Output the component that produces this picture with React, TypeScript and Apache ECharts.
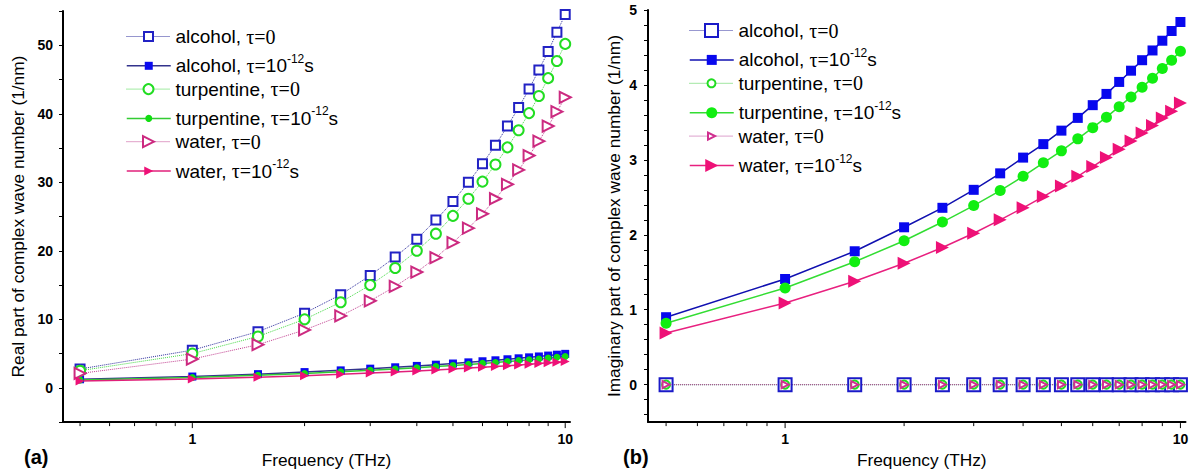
import React, { useEffect, useRef } from 'react';
import * as echarts from 'echarts';

// ---------------- data ----------------
const frequency = [0.5, 1, 1.5, 2, 2.5, 3, 3.5, 4, 4.5, 5, 5.5, 6, 6.5, 7, 7.5, 8, 8.5, 9, 9.5, 10];

// (a) real part of complex wave number (1/nm)
const realAlcoholTau0 = [2.75, 5.5, 8.2, 10.9, 13.6, 16.4, 19.1, 21.7, 24.5, 27.2, 30.0, 32.7, 35.4, 38.2, 40.9, 43.6, 46.4, 49.1, 51.9, 54.5];
const realAlcoholTau1 = [1.25, 1.65, 2.0, 2.3, 2.55, 2.8, 3.0, 3.2, 3.38, 3.55, 3.72, 3.88, 4.02, 4.17, 4.31, 4.45, 4.58, 4.71, 4.84, 4.96];
const realTurpTau0 = [2.5, 5.0, 7.5, 10.0, 12.5, 15.0, 17.5, 20.0, 22.5, 25.1, 27.6, 30.1, 32.6, 35.1, 37.6, 40.1, 42.6, 45.2, 47.7, 50.2];
const realTurpTau1 = [1.15, 1.52, 1.85, 2.1, 2.35, 2.56, 2.76, 2.94, 3.11, 3.27, 3.42, 3.57, 3.71, 3.84, 3.97, 4.1, 4.22, 4.34, 4.46, 4.57];
const realWaterTau0 = [2.1, 4.2, 6.3, 8.45, 10.5, 12.7, 14.8, 16.9, 19.0, 21.2, 23.3, 25.4, 27.6, 29.7, 31.8, 33.9, 36.0, 38.2, 40.3, 42.4];
const realWaterTau1 = [1.0, 1.3, 1.55, 1.78, 1.97, 2.15, 2.31, 2.47, 2.61, 2.75, 2.88, 3.0, 3.12, 3.23, 3.34, 3.45, 3.55, 3.65, 3.74, 3.83];

// (b) imaginary part of complex wave number (1/nm)
const imagAlcoholTau0 = [0, 0, 0, 0, 0, 0, 0, 0, 0, 0, 0, 0, 0, 0, 0, 0, 0, 0, 0, 0];
const imagAlcoholTau1 = [0.9, 1.41, 1.78, 2.1, 2.36, 2.6, 2.82, 3.03, 3.21, 3.39, 3.56, 3.73, 3.88, 4.04, 4.19, 4.33, 4.46, 4.59, 4.72, 4.84];
const imagTurpTau0 = [0, 0, 0, 0, 0, 0, 0, 0, 0, 0, 0, 0, 0, 0, 0, 0, 0, 0, 0, 0];
const imagTurpTau1 = [0.82, 1.29, 1.64, 1.92, 2.17, 2.39, 2.59, 2.78, 2.96, 3.12, 3.28, 3.43, 3.57, 3.71, 3.84, 3.97, 4.09, 4.22, 4.33, 4.45];
const imagWaterTau0 = [0, 0, 0, 0, 0, 0, 0, 0, 0, 0, 0, 0, 0, 0, 0, 0, 0, 0, 0, 0];
const imagWaterTau1 = [0.69, 1.09, 1.38, 1.62, 1.83, 2.02, 2.2, 2.36, 2.51, 2.65, 2.78, 2.91, 3.03, 3.14, 3.25, 3.36, 3.46, 3.56, 3.65, 3.76];

// legend labels
const materials = ['alcohol', 'turpentine', 'water'];

// ticks
const xTickValues = [0.5, 0.6, 0.7, 0.8, 0.9, 1, 2, 3, 4, 5, 6, 7, 8, 9, 10];
const xLabelValues = [1, 10];
const realTickValues = [-5, 0, 5, 10, 15, 20, 25, 30, 35, 40, 45, 50, 55];
const realLabelValues = [0, 10, 20, 30, 40, 50];
const imagTickValues = [-0.4, -0.2, 0, 0.2, 0.4, 0.6, 0.8, 1, 1.2, 1.4, 1.6, 1.8, 2, 2.2, 2.4, 2.6, 2.8, 3, 3.2, 3.4, 3.6, 3.8, 4, 4.2, 4.4, 4.6, 4.8, 5];
const imagLabelValues = [0, 1, 2, 3, 4, 5];

// ---------------- styling ----------------
const SANS = '"Liberation Sans", Arial, Helvetica, sans-serif';
const SERIF = '"Liberation Serif", "Times New Roman", serif';

const X_MIN = 0.45;
const X_MAX = 10.3;
const REAL_MIN = -5;
const REAL_MAX = 55;
const IMAG_MIN = -0.5;
const IMAG_MAX = 5;

type Sty = {
  symbol: string;
  size: number;
  rotate?: number;
  color: string;
  line: string;
  width: number;
  dotted: boolean;
};

const stylesA: Sty[] = [
  { symbol: 'emptyRect', size: 9, color: '#2222c4', line: '#2c2c9c', width: 1, dotted: true },
  { symbol: 'rect', size: 8, color: '#0a0af0', line: '#33338c', width: 1.5, dotted: false },
  { symbol: 'emptyCircle', size: 10, color: '#22dd22', line: '#44d844', width: 1, dotted: true },
  { symbol: 'circle', size: 7, color: '#11dd11', line: '#33cc33', width: 1.5, dotted: false },
  { symbol: 'emptyTriangle', size: 11, rotate: -90, color: '#cc2a80', line: '#c04090', width: 1, dotted: true },
  { symbol: 'triangle', size: 9, rotate: -90, color: '#ee1177', line: '#e0207a', width: 1.5, dotted: false },
];

const stylesB: Sty[] = [
  { symbol: 'emptyRect', size: 13, color: '#1a1ac8', line: '#3030a0', width: 1, dotted: true },
  { symbol: 'rect', size: 10, color: '#0808ee', line: '#1010b0', width: 1.5, dotted: false },
  { symbol: 'emptyCircle', size: 8, color: '#22dd22', line: '#44cc44', width: 1, dotted: true },
  { symbol: 'circle', size: 11, color: '#11ee11', line: '#33dd33', width: 1.5, dotted: false },
  { symbol: 'emptyTriangle', size: 7, rotate: -90, color: '#d03090', line: '#bb4499', width: 1, dotted: true },
  { symbol: 'triangle', size: 13, rotate: -90, color: '#ee1177', line: '#e8207f', width: 1.5, dotted: false },
];

const legendRowsA = [39.5, 65.8, 92.1, 118.4, 144.7, 171];
const legendRowsB = [33.5, 59.9, 86.3, 112.7, 139.1, 165.5];
const LEGEND_LINE_H = 26;

function richLabel(idx: number): string {
  const m = materials[Math.floor(idx / 2)];
  if (idx % 2 === 0) return `{n|${m}, }{t|τ=0}`;
  return `{n|${m}, }{t|τ=}{n|10}{s|-12}{n|s}`;
}

const richStyles = {
  n: { fontFamily: SANS, fontSize: 19, lineHeight: LEGEND_LINE_H, color: '#000' },
  t: { fontFamily: SERIF, fontSize: 20, lineHeight: LEGEND_LINE_H, color: '#000' },
  s: { fontFamily: SANS, fontSize: 12, lineHeight: 12, verticalAlign: 'top', color: '#000' },
};

function buildOption() {
  const panels = [
    {
      key: 'a',
      values: [realAlcoholTau0, realAlcoholTau1, realTurpTau0, realTurpTau1, realWaterTau0, realWaterTau1],
      styles: stylesA,
      rows: legendRowsA,
      legendLeft: 126,
      yMin: REAL_MIN,
    },
    {
      key: 'b',
      values: [imagAlcoholTau0, imagAlcoholTau1, imagTurpTau0, imagTurpTau1, imagWaterTau0, imagWaterTau1],
      styles: stylesB,
      rows: legendRowsB,
      legendLeft: 689,
      yMin: IMAG_MIN,
    },
  ];

  const series: any[] = [];
  const legends: any[] = [];
  const labelMap: Record<string, string> = {};

  panels.forEach((p, g) => {
    p.values.forEach((vals, i) => {
      const s = p.styles[i];
      const name = `${p.key}${i}`;
      labelMap[name] = richLabel(i);
      series.push({
        type: 'line',
        name,
        xAxisIndex: g,
        yAxisIndex: g,
        data: frequency.map((f, k) => [f, vals[k]]),
        symbol: s.symbol,
        symbolSize: s.size,
        symbolRotate: s.rotate || 0,
        showSymbol: true,
        lineStyle: { color: s.line, width: s.width, type: s.dotted ? 'dotted' : 'solid' },
        itemStyle: { color: s.color },
        emphasis: { disabled: true },
        z: 3,
      });
      legends.push({
        show: true,
        selectedMode: false,
        orient: 'horizontal',
        left: p.legendLeft,
        top: p.rows[i] - LEGEND_LINE_H / 2,
        padding: 0,
        itemGap: 0,
        itemWidth: 44,
        itemHeight: s.size / 0.8,
        data: [name],
        formatter: (n: string) => labelMap[n],
        lineStyle: { color: s.line, width: s.width, type: s.dotted ? 'dotted' : 'solid' },
        textStyle: { fontFamily: SANS, fontSize: 19, color: '#000', rich: richStyles },
      });
    });
    // x-axis tick marks drawn through the log scale
    series.push({
      type: 'custom',
      xAxisIndex: g,
      yAxisIndex: g,
      silent: true,
      clip: false,
      z: 6,
      data: xTickValues.map((v) => [v, p.yMin]),
      renderItem: (_params: any, api: any) => {
        const v = api.value(0);
        const pt = api.coord([v, api.value(1)]);
        const major = xLabelValues.some((l) => Math.abs(l - v) < 1e-9);
        return {
          type: 'line',
          shape: { x1: pt[0], y1: pt[1] + 1, x2: pt[0], y2: pt[1] + (major ? 6 : 4) },
          style: { stroke: '#000', lineWidth: 1 },
        };
      },
    });
  });

  const axisLabelStyle = { fontFamily: SANS, fontSize: 14, fontWeight: 'bold', color: '#000' };
  const nameStyle = { fontFamily: SANS, fontSize: 17.3, color: '#000' };

  const xAxisFor = (g: number, gap: number, shift: number) => ({
    type: 'log',
    logBase: 10,
    gridIndex: g,
    min: X_MIN,
    max: X_MAX,
    name: 'Frequency (THz)',
    nameLocation: 'middle',
    nameGap: gap,
    nameTextStyle: { ...nameStyle, padding: [0, 0, 0, shift] },
    axisLine: { show: true, onZero: false, lineStyle: { color: '#000', width: 2 } },
    axisTick: { show: false },
    minorTick: { show: false },
    splitLine: { show: false },
    minorSplitLine: { show: false },
    axisLabel: {
      ...axisLabelStyle,
      margin: 10,
      formatter: (v: number) => {
        const hit = xLabelValues.find((l) => Math.abs(l - v) < 1e-6 * l);
        return hit === undefined ? '' : String(hit);
      },
    },
  });

  return {
    animation: false,
    backgroundColor: '#fff',
    grid: [
      { left: 63, top: 11, width: 507, height: 415, containLabel: false },
      { left: 648, top: 10, width: 537.5, height: 418.6, containLabel: false },
    ],
    xAxis: [xAxisFor(0, 28, 20), xAxisFor(1, 26, 10)],
    yAxis: [
      {
        type: 'value',
        gridIndex: 0,
        min: REAL_MIN,
        max: REAL_MAX,
        name: 'Real part of complex wave number (1/nm)',
        nameLocation: 'middle',
        nameGap: 37,
        nameTextStyle: nameStyle,
        axisLine: { show: true, onZero: false, lineStyle: { color: '#000', width: 2 } },
        axisTick: { show: true, length: 4, customValues: realTickValues, lineStyle: { color: '#000', width: 1 } },
        axisLabel: { ...axisLabelStyle, margin: 10, customValues: realLabelValues },
        splitLine: { show: false },
      },
      {
        type: 'value',
        gridIndex: 1,
        min: IMAG_MIN,
        max: IMAG_MAX,
        name: 'Imaginary part of complex wave number (1/nm)',
        nameLocation: 'middle',
        nameGap: 26,
        nameTextStyle: nameStyle,
        axisLine: { show: true, onZero: false, lineStyle: { color: '#000', width: 2 } },
        axisTick: { show: true, length: 4, customValues: imagTickValues, lineStyle: { color: '#000', width: 1 } },
        axisLabel: { ...axisLabelStyle, margin: 11, customValues: imagLabelValues },
        splitLine: { show: false },
      },
    ],
    legend: legends,
    graphic: [
      {
        type: 'text',
        x: 24,
        y: 457,
        style: { text: '(a)', fontFamily: SANS, fontSize: 20, fontWeight: 'bold', fill: '#000', verticalAlign: 'middle' },
      },
      {
        type: 'text',
        x: 623,
        y: 457,
        style: { text: '(b)', fontFamily: SANS, fontSize: 20, fontWeight: 'bold', fill: '#000', verticalAlign: 'middle' },
      },
    ],
    series,
  };
}

export default function App() {
  const ref = useRef<HTMLDivElement>(null);
  useEffect(() => {
    if (!ref.current) return;
    const chart = echarts.init(ref.current, undefined, { renderer: 'svg' });
    chart.setOption(buildOption() as any);
    return () => chart.dispose();
  }, []);
  return (
    <div
      ref={ref}
      style={{ position: 'absolute', left: 0, top: 0, width: 1193, height: 473, background: '#fff' }}
    />
  );
}
